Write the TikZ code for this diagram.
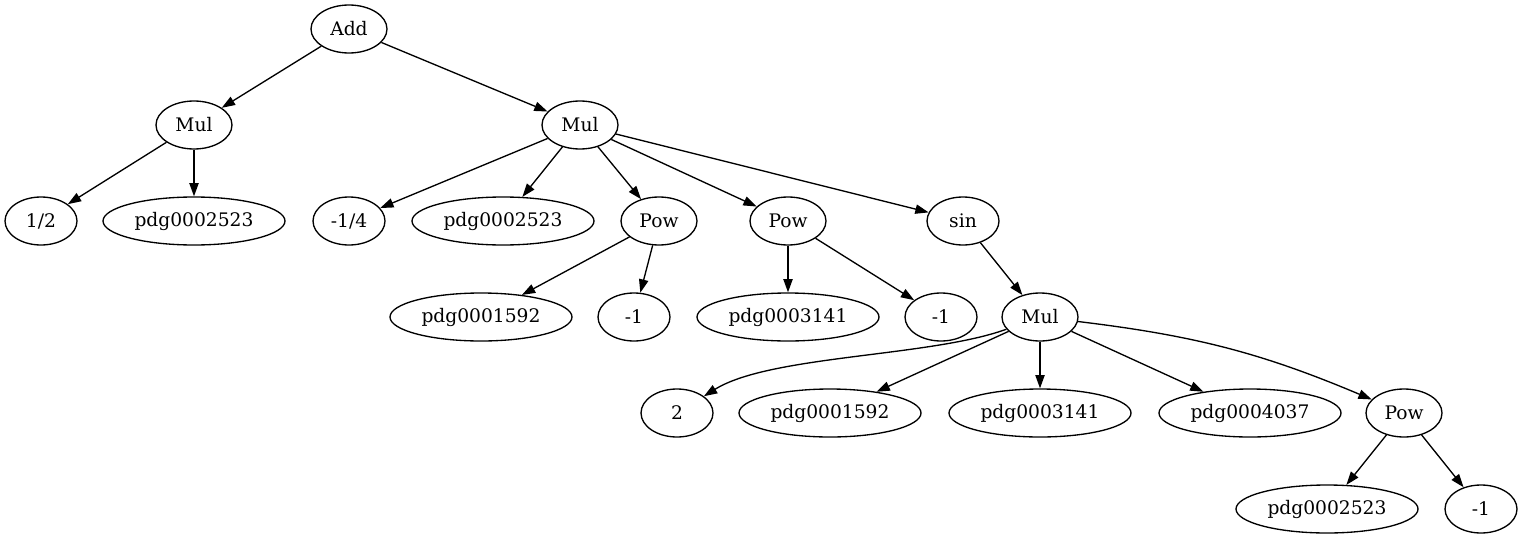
\documentclass[tikz,border=0pt]{standalone}
\usepackage{fontspec}
\setmainfont{DejaVu Serif}
\usetikzlibrary{shapes.geometric,arrows.meta}

\begin{document}
\begin{tikzpicture}[x=0.75pt, y=-0.75pt, line width=1pt,
    every node/.style={ellipse, draw, inner sep=0pt, minimum height=36pt, minimum width=54pt,
      font=\fontsize{14pt}{16pt}\selectfont},
    op/.style={minimum width=57pt},
    wide/.style={minimum width=136.5pt},
    edge/.style={-{Triangle[length=10pt,width=7pt]}}]
                \useasboundingbox (0,0) rectangle (1523,539);

                \node[op] (add) at (349,29) {Add};
                \node[op] (mulA) at (194,125) {Mul};
                \node[op] (mulB) at (580,125) {Mul};

                \node (half) at (41,221) {1/2};
                \node[wide] (pdgA) at (194,221) {pdg0002523};
                \node (quart) at (349,221) {-1/4};
                \node[wide] (pdgB) at (503,221) {pdg0002523};
                \node[op] (powA) at (659,221) {Pow};
                \node[op] (powB) at (788,221) {Pow};
                \node (sin) at (963,221) {sin};

                \node[wide] (pdgC) at (481,317) {pdg0001592};
                \node (mone) at (634,317) {-1};
                \node[wide] (pdgD) at (788,317) {pdg0003141};
                \node (mtwo) at (941,317) {-1};
                \node[op] (mulC) at (1040,317) {Mul};

                \node (two) at (677,413) {2};
                \node[wide] (pdgE) at (830,413) {pdg0001592};
                \node[wide] (pdgF) at (1040,413) {pdg0003141};
                \node[wide] (pdgG) at (1250,413) {pdg0004037};
                \node[op] (powC) at (1404,413) {Pow};

                \node[wide] (pdgH) at (1327,509) {pdg0002523};
                \node (mthree) at (1481,509) {-1};

                \draw[edge] (add) -- (mulA);
                \draw[edge] (add) -- (mulB);
                \draw[edge] (mulA) -- (half);
                \draw[edge] (mulA) -- (pdgA);
                \draw[edge] (mulB) -- (quart);
                \draw[edge] (mulB) -- (pdgB);
                \draw[edge] (mulB) -- (powA);
                \draw[edge] (mulB) -- (powB);
                \draw[edge] (mulB) -- (sin);
                \draw[edge] (powA) -- (pdgC);
                \draw[edge] (powA) -- (mone);
                \draw[edge] (powB) -- (pdgD);
                \draw[edge] (powB) -- (mtwo);
                \draw[edge] (sin) -- (mulC);
                \draw[edge] (mulC) .. controls (930,357) and (770,355) .. (two);
                \draw[edge] (mulC) -- (pdgE);
                \draw[edge] (mulC) -- (pdgF);
                \draw[edge] (mulC) -- (pdgG);
                \draw[edge] (mulC) to[bend left=8] (powC);
                \draw[edge] (powC) -- (pdgH);
                \draw[edge] (powC) -- (mthree);
            \end{tikzpicture}
\end{document}
